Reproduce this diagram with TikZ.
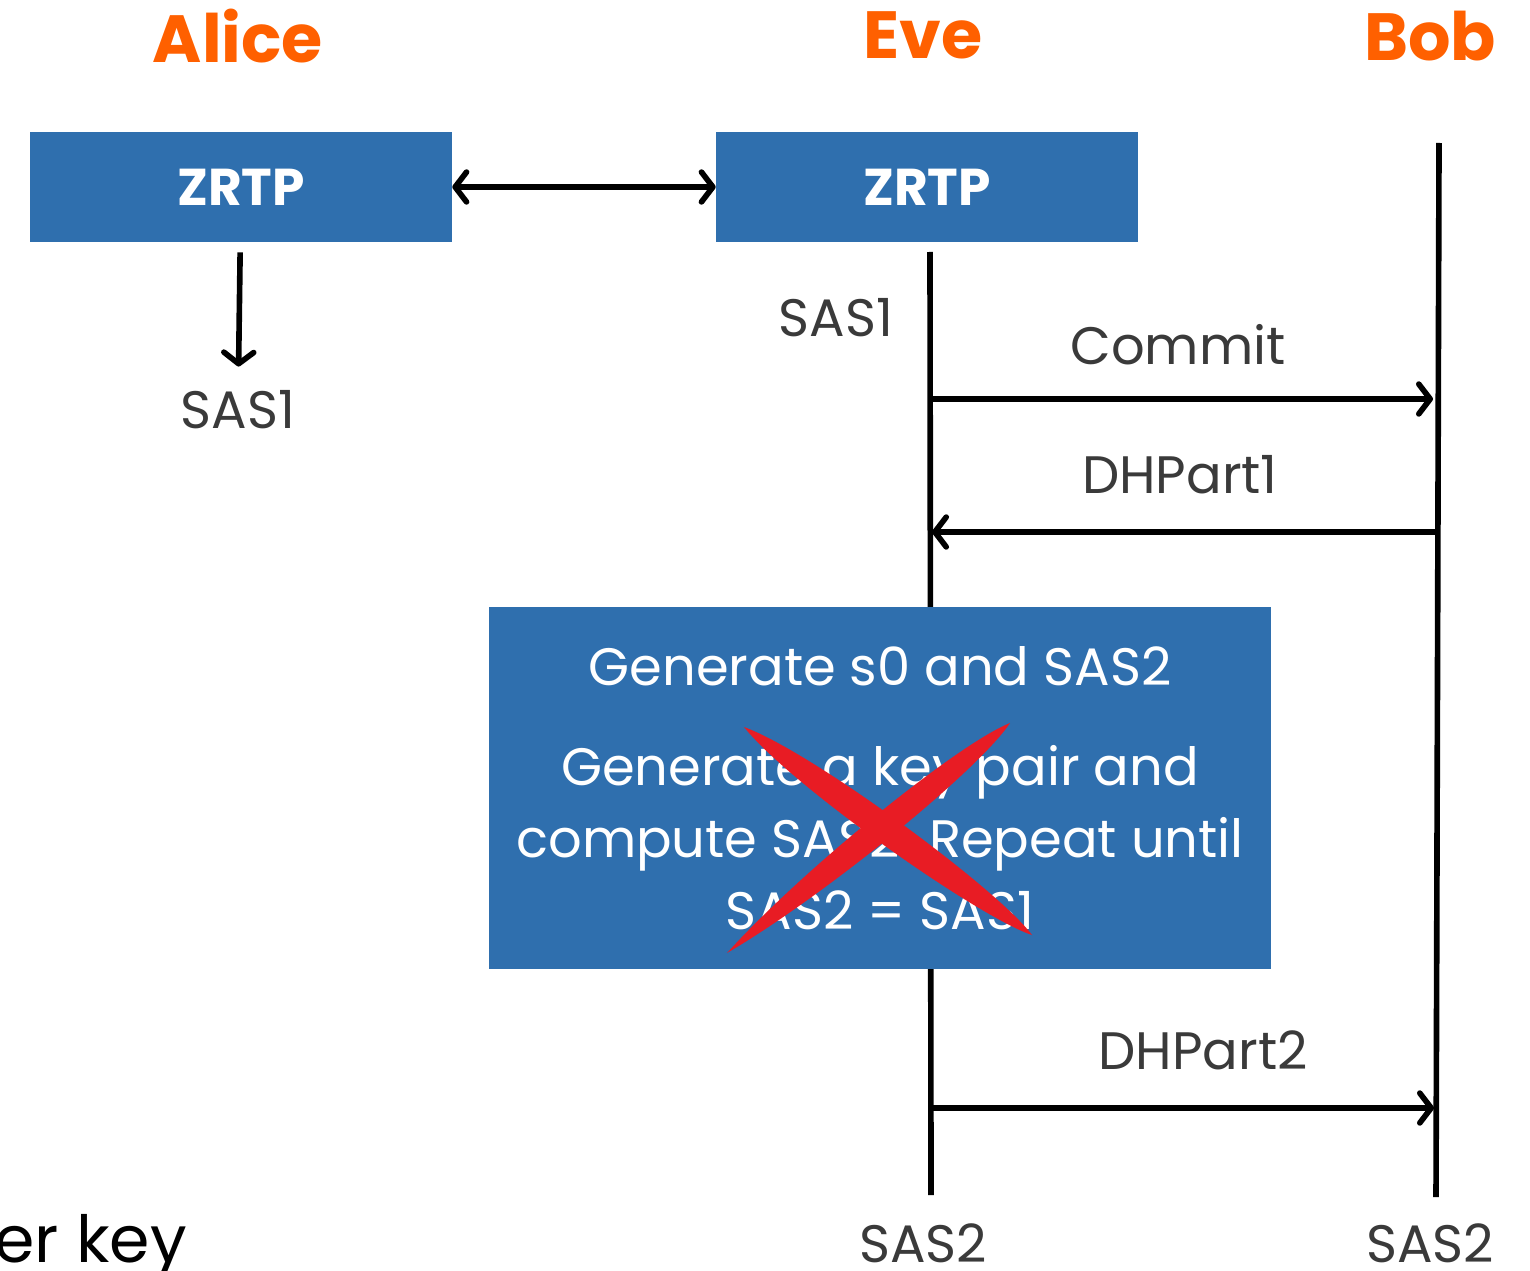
\documentclass[tikz,border=0pt]{standalone}
\usepackage{fontspec}
\setmainfont{Poppins}
\usepackage{tikz}
\usetikzlibrary{arrows.meta,calc}
\definecolor{zblue}{HTML}{2F6FAE}
\definecolor{zorange}{HTML}{FF6000}
\definecolor{zgrey}{HTML}{3A3A3A}
\definecolor{zred}{HTML}{E81C24}

\begin{document}
\begin{tikzpicture}[x=0.02cm, y=-0.02cm,
  party/.style={text=zorange, font=\fontsize{38}{42}\selectfont\bfseries},
  zbox/.style={fill=zblue, text=white, minimum width=8.44cm, minimum height=2.2cm, font=\fontsize{29.5}{34}\selectfont\bfseries},
  lbl/.style={text=zgrey, font=\fontsize{30}{34}\selectfont},
  life/.style={line width=3.2pt},
  msg/.style={line width=3.2pt, -{Straight Barb[length=6.5pt,width=17pt,round]}},
  dmsg/.style={line width=3.2pt, {Straight Barb[length=6.5pt,width=17pt,round]}-{Straight Barb[length=6.5pt,width=17pt,round]}}]
		\useasboundingbox (0,0) rectangle (1530,1270);
		\node (ALICE) at (238,36) [party] {Alice};
		\node (EVE) at (923,35) [party] {Eve};
		\node (BOB) at (1430,36) [party] {Bob};
		\node (ZRTPA) at (241,187) [zbox] {ZRTP};
		\node (ZRTPE) at (927,187) [zbox] {ZRTP};
		\node (SASA) at (238,410) [lbl] {SAS1};
		\node (SASE) at (836,318) [lbl] {SAS1};
		\coordinate (EVETOP) at (930,252);
		\coordinate (EVEBOT) at (931,1195);
		\coordinate (BOBTOP) at (1439,143);
		\coordinate (BOBBOT) at (1436,1197);
		\coordinate (COMMITE) at (930,399);
		\coordinate (COMMITB) at (1433,399);
		\coordinate (DHONEB) at (1438,532);
		\coordinate (DHONEE) at (932,532);
		\coordinate (DHTWOE) at (931,1108);
		\coordinate (DHTWOB) at (1434,1108);
		\draw[dmsg] (ZRTPA) -- (ZRTPE);
		\draw[msg, shorten <=0.2cm, shorten >=0.36cm] (ZRTPA) -- (SASA);
		\draw[life] (EVETOP) -- (EVEBOT);
		\draw[life] (BOBTOP) -- (BOBBOT);
		\draw[msg] (COMMITE) -- (COMMITB);
		\draw[msg] (DHONEB) -- (DHONEE);
		\draw[msg] (DHTWOE) -- (DHTWOB);
		\node (COMMIT) at (1178,345) [lbl] {Commit};
		\node (DHONE) at (1180,475) [lbl] {DHPart1};
		\node (DHTWO) at (1203,1050) [lbl] {DHPart2};
		\node (GEN) at (880,788) [fill=zblue, text=white, minimum width=15.64cm, minimum height=7.26cm, align=center, font=\fontsize{30}{41}\selectfont] {Generate s0 and SAS2\\[16pt] Generate a key pair and\\ compute SAS2. Repeat until\\ SAS2 = SAS1};
		\coordinate (XAA) at (744,727);
		\coordinate (XAB) at (1032,935);
		\coordinate (XBA) at (1010,723);
		\coordinate (XBB) at (727,953);
		\fill[zred] (XAA) .. controls ($(XAA)!0.2!(XAB)!0.4cm!90:(XAB)$) and ($(XAA)!0.85!(XAB)!0.34cm!90:(XAB)$) .. (XAB)
			.. controls ($(XAA)!0.85!(XAB)!0.34cm!-90:(XAB)$) and ($(XAA)!0.2!(XAB)!0.4cm!-90:(XAB)$) .. (XAA);
		\fill[zred] (XBA) .. controls ($(XBA)!0.15!(XBB)!0.34cm!90:(XBB)$) and ($(XBA)!0.7!(XBB)!0.34cm!90:(XBB)$) .. (XBB)
			.. controls ($(XBA)!0.7!(XBB)!0.34cm!-90:(XBB)$) and ($(XBA)!0.15!(XBB)!0.34cm!-90:(XBB)$) .. (XBA);
		\node (SASEVE) at (923,1243) [lbl] {SAS2};
		\node (SASBOB) at (1430,1243) [lbl] {SAS2};
		\node (KEY) at (-6,1262) [anchor=base west, inner sep=0pt, font=\fontsize{37}{40}\selectfont] {er key};
\end{tikzpicture}
\end{document}
